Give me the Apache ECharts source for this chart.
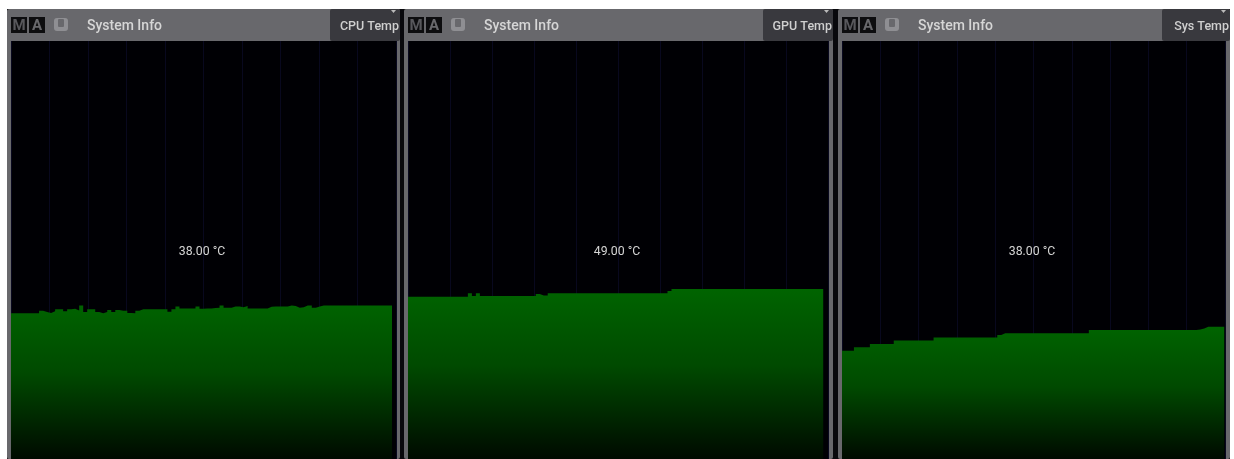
<!DOCTYPE html>
<html><head><meta charset="utf-8">
<script src="https://cdn.jsdelivr.net/npm/echarts@6/dist/echarts.min.js"></script>
<style>html,body{margin:0;padding:0;background:#fff}#c{width:1234px;height:459px;filter:blur(0.5px)}</style>
</head><body><div id="c"></div>
<script>
const panelTitle = 'System Info';
const tabLabels = ['CPU Temp', 'GPU Temp', 'Sys Temp'];
const readouts = ['38.00 °C', '49.00 °C', '38.00 °C'];
const cpuTemp = [35.9,35.9,35.9,35.9,35.9,35.9,35.9,36.5,36.2,36.0,36.4,36.9,36.9,36.4,36.9,37.0,36.6,37.8,36.2,36.9,36.9,36.2,35.9,36.2,36.7,36.2,36.7,36.5,36.5,36.0,35.9,36.5,36.9,36.9,36.9,36.9,36.9,36.9,36.9,36.3,36.9,37.6,37.1,37.1,37.1,37.1,37.6,37.0,37.1,37.1,37.2,37.3,37.8,37.3,37.3,37.6,37.6,37.4,37.7,37.1,37.1,37.1,37.1,37.1,37.5,37.6,37.6,37.6,37.6,37.8,37.7,37.3,37.4,37.8,37.8,37.3,37.6,37.8,37.8,37.8,37.8,37.8,37.8,37.8,37.8,37.8,37.8,37.8,37.8,37.8,37.8,37.8,37.8,37.8,37.8,38.8];
const gpuTemp = [46.8,46.8,46.8,46.8,46.8,46.8,46.8,46.8,46.8,46.8,46.8,46.8,46.8,46.8,46.8,47.8,47.0,47.8,47.0,47.0,47.0,47.0,47.0,47.0,47.0,47.0,47.0,47.0,47.0,47.0,47.0,47.0,47.6,47.1,47.1,47.8,47.8,47.8,47.8,47.8,47.8,47.8,47.8,47.8,47.8,47.8,47.8,47.8,47.8,47.8,47.8,47.8,47.8,47.8,47.8,47.8,47.8,47.8,47.8,47.8,47.8,47.8,47.8,47.8,47.8,48.4,49,49,49,49,49,49,49,49,49,49,49,49,49,49,49,49,49,49,49,49,49,49,49,49,49,49,49,49,49,49,49,49,49,49,49,49,49,49,49];
const sysTemp = [31.1,31.1,31.1,32.1,32.1,32.1,32.1,33.0,33.0,33.0,33.0,33.0,33.0,34.0,34.0,34.0,34.0,34.0,34.0,34.0,34.0,34.0,34.0,34.9,34.9,34.9,34.9,34.9,34.9,34.9,34.9,34.9,34.9,34.9,34.9,34.9,34.9,34.9,34.9,35.6,36.1,36.1,36.1,36.1,36.1,36.1,36.1,36.1,36.1,36.1,36.1,36.1,36.1,36.1,36.1,36.1,36.1,36.1,36.1,36.1,36.1,36.1,37.0,37.0,37.0,37.0,37.0,37.0,37.0,37.0,37.0,37.0,37.0,37.0,37.0,37.0,37.0,37.0,37.0,37.0,37.0,37.0,37.0,37.0,37.0,37.0,37.0,37.0,37.0,37.2,37.5,38,38,38,38,38,38];
const seriesList = [cpuTemp, gpuTemp, sysTemp];
const xMax = [96, 105.2, 96.2];
const yMax = [103, 120.5, 120];

const F = '"Roboto","Noto Sans",sans-serif';
const panels = [
  {x0:7, x1:400, tab:330, px:11, pw:385, cx:202},
  {x0:404, x1:833, tab:763, px:408, pw:420, cx:617},
  {x0:838, x1:1230, tab:1162, px:842, pw:383, cx:1032}
];
const G = [];
const rect = (x,y,w,h,fill,z,r)=>G.push({type:'rect',shape:{x,y,width:w,height:h,r:r||0},style:{fill},z:z||0,silent:true});
const text = (x,y,t,o)=>G.push({type:'text',x,y,z:5,silent:true,style:Object.assign({text:t,fontFamily:F,fontSize:12,fill:'#d6d6d6',textVerticalAlign:'middle'},o||{})});
rect(7,9,1223,450,'#08080c',0);
panels.forEach((p,i)=>{
  rect(p.x0,9,p.x1-p.x0,450,'#68686c',0,2);
  rect(p.px,41,p.x1-p.px-4,418,'#000004',1);
  rect(p.tab,9,p.x1-p.tab,32,'#39393e',2,2);
  const m=p.x0+4;
  rect(m,17,16,16,'#0d0d0f',3); rect(m+18,17,16,16,'#0d0d0f',3);
  text(m+8,26,'M',{textAlign:'center',fontSize:15,fontWeight:'bold',fill:'#58585c'});
  text(m+26,26,'A',{textAlign:'center',fontSize:15,fontWeight:'bold',fill:'#68686c'});
  rect(m+43,18,14,13,'#8f8f93',3,3); rect(m+47,19,6,8,'#68686c',4,1);
  text(m+76,26,panelTitle,{fontSize:14,fontWeight:500});
  text(p.x1-1,26.5,tabLabels[i],{textAlign:'right',fontSize:12.5,fontWeight:500,fill:'#cfcfcf'});
  G.push({type:'polygon',shape:{points:[[p.x1-9,10],[p.x1-4,10],[p.x1-6.5,13]]},style:{fill:'#bbbbbb'},z:5,silent:true});
  text(p.cx,251.5,readouts[i],{textAlign:'center',fontSize:12.3,fill:'#d4d4d4'});
});
const chart = echarts.init(document.getElementById('c'),null,{renderer:'canvas'});
chart.setOption({
  animation:false,
  graphic:{elements:G},
  grid:panels.map(p=>({left:p.px,width:p.pw,top:41,height:418,containLabel:false,z:3})),
  xAxis:panels.map((p,i)=>({type:'value',gridIndex:i,min:0,max:xMax[i],interval:xMax[i]/10,z:3,
    axisLine:{show:false},axisTick:{show:false},axisLabel:{show:false},
    splitLine:{show:true,lineStyle:{color:'#08081e',width:1}}})),
  yAxis:panels.map((p,i)=>({type:'value',gridIndex:i,min:0,max:yMax[i],
    axisLine:{show:false},axisTick:{show:false},axisLabel:{show:false},splitLine:{show:false}})),
  series:seriesList.map((s,i)=>({type:'line',xAxisIndex:i,yAxisIndex:i,step:'end',symbol:'none',z:4,
    data:s.map((v,k)=>[k,v]),
    lineStyle:{width:0},
    areaStyle:{opacity:1,color:new echarts.graphic.LinearGradient(0,0,0,1,[
      {offset:0,color:'#006400'},{offset:0.45,color:'#004a00'},{offset:1,color:'#000a00'}])}}))
});
</script></body></html>
